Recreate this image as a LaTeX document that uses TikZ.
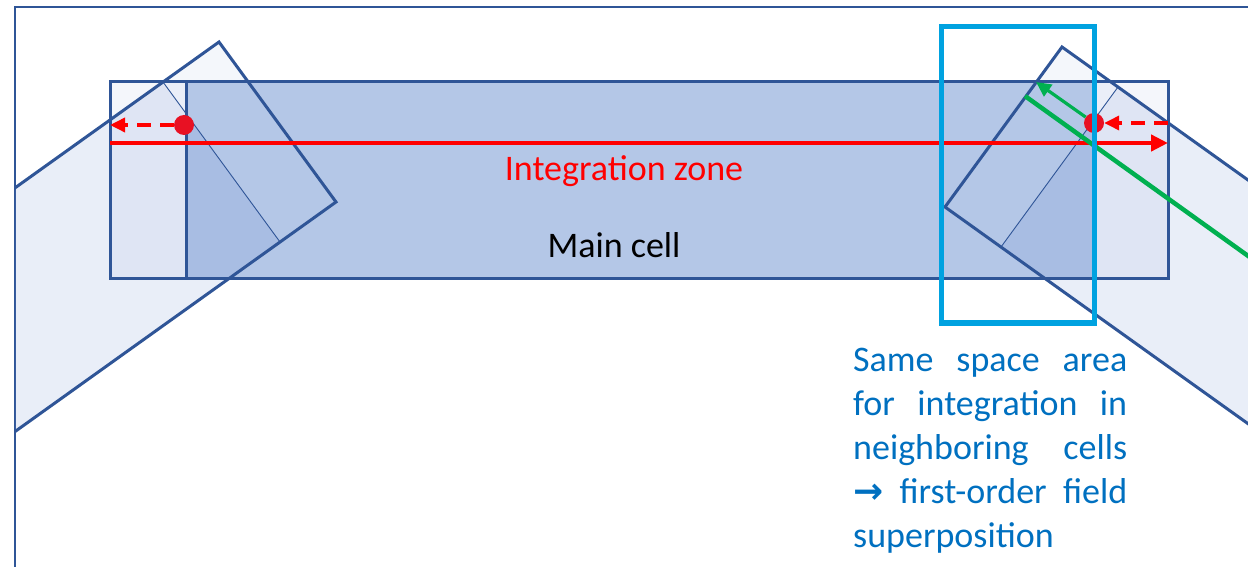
\documentclass[tikz,border=0pt]{standalone}
\usepackage{fontspec}
\setmainfont{Carlito}
\newfontfamily\arrowfont{DejaVu Sans Bold}
\usetikzlibrary{arrows.meta}

\definecolor{cellline}{HTML}{2F5597}
\definecolor{cellcore}{HTML}{B4C7E7}
\definecolor{cellrim}{HTML}{F4F6FB}
\definecolor{tiltcore}{HTML}{698AD1}
\definecolor{tiltrim}{HTML}{B4C7E7}
\definecolor{zonered}{HTML}{FF0000}
\definecolor{dotred}{HTML}{E81123}
\definecolor{raygreen}{HTML}{00B050}
\definecolor{boxblue}{HTML}{00A2E0}
\definecolor{noteblue}{HTML}{0070C0}

\tikzset{
  cell/.style={draw=cellline, line width=3pt, line join=miter},
  cellsplit/.style={draw=cellline, line width=0.9pt},
  zone/.style={zonered, line width=4.5pt, -{Triangle[length=17pt,width=16pt]}},
  shiftarrow/.style={zonered, line width=3.5pt, dash pattern=on 14pt off 9pt, -{Triangle[length=15pt,width=14pt]}},
  fielddot/.style={circle, fill=dotred, inner sep=0pt, minimum size=20pt},
  ray/.style={raygreen, line width=4.5pt},
  rayback/.style={raygreen, line width=3.2pt, -{Triangle[length=15pt,width=14pt]}},
  overlapbox/.style={draw=boxblue, line width=5.5pt},
}

\begin{document}
\begin{tikzpicture}[x=1pt,y=-1pt, every node/.style={font=\fontsize{36}{44}\selectfont}]
\useasboundingbox (0,0) rectangle (1248,567);

% Frame
\draw[cellline, line width=2.2pt] (15,567) -- (15,7) -- (1248,7);

% Main cell: light rims and darker core
\fill[cellrim] (110,82) rectangle (1168,278);
\fill[cellcore] (186,82) rectangle (1093,278);

% Tilted neighbouring cells (semi-transparent, cut at the frame)
\begin{scope}
\clip (15,7) rectangle (1248,567);
% left one
\fill[tiltcore, fill opacity=0.15] (163,82) -- (280,242) -- (-152,551) -- (-269,391) -- cycle;
\fill[tiltrim, fill opacity=0.15] (219,42) -- (336,202) -- (280,242) -- (163,82) -- cycle;
\draw[cell] (-269,391) -- (219,42) -- (336,202) -- (-152,551);
\draw[cellsplit] (163,82) -- (280,242);
% right one
\fill[tiltcore, fill opacity=0.15] (1118,87) -- (1001,247) -- (1433,556) -- (1550,396) -- cycle;
\fill[tiltrim, fill opacity=0.15] (1062,47) -- (945,207) -- (1001,247) -- (1118,87) -- cycle;
\draw[cell] (1550,396) -- (1062,47) -- (945,207) -- (1433,556);
\draw[cellsplit] (1118,87) -- (1001,247);
\end{scope}

% Main cell outlines
\draw[cell] (110,82) rectangle (1168,278);
\draw[cell] (186,82) rectangle (1093,278);

% Integration zone
\coordinate (zoneL) at (110,143);
\coordinate (zoneR) at (1168,143);
\draw[zone] (zoneL) -- (zoneR);

% Green ray and its reflected part
\coordinate (rayIn) at (1025,96);
\coordinate (rayOut) at (1350,329);
\coordinate (rayHit) at (1036,82);
\draw[ray] (rayIn) -- (rayOut);

% Field points shifted to the cell edges
\node[fielddot] (dotL) at (184,125) {};
\node[fielddot] (dotR) at (1094,123) {};
\coordinate (edgeL) at (110,125);
\coordinate (edgeR) at (1168,123);
\draw[rayback] (dotR) -- (rayHit);
\draw[shiftarrow] (dotL) -- (edgeL);
\draw[shiftarrow] (edgeR) -- (dotR);

% Shared integration area
\draw[overlapbox] (941.5,26.5) rectangle (1094.5,323);

% Labels
\node[text=zonered, anchor=base] (zone) at (624,181) {Integration zone};
\node[anchor=base] (cell) at (614,257) {Main cell};
\node[text=noteblue, anchor=north west, inner sep=0pt, align=left] (note) at (853,348) {%
  \makebox[274pt][s]{Same space area}\\
  \makebox[274pt][s]{for integration in}\\
  \makebox[274pt][s]{neighboring cells}\\
  \makebox[274pt][s]{{\arrowfont →} first-order field}\\
  superposition};
\end{tikzpicture}
\end{document}
